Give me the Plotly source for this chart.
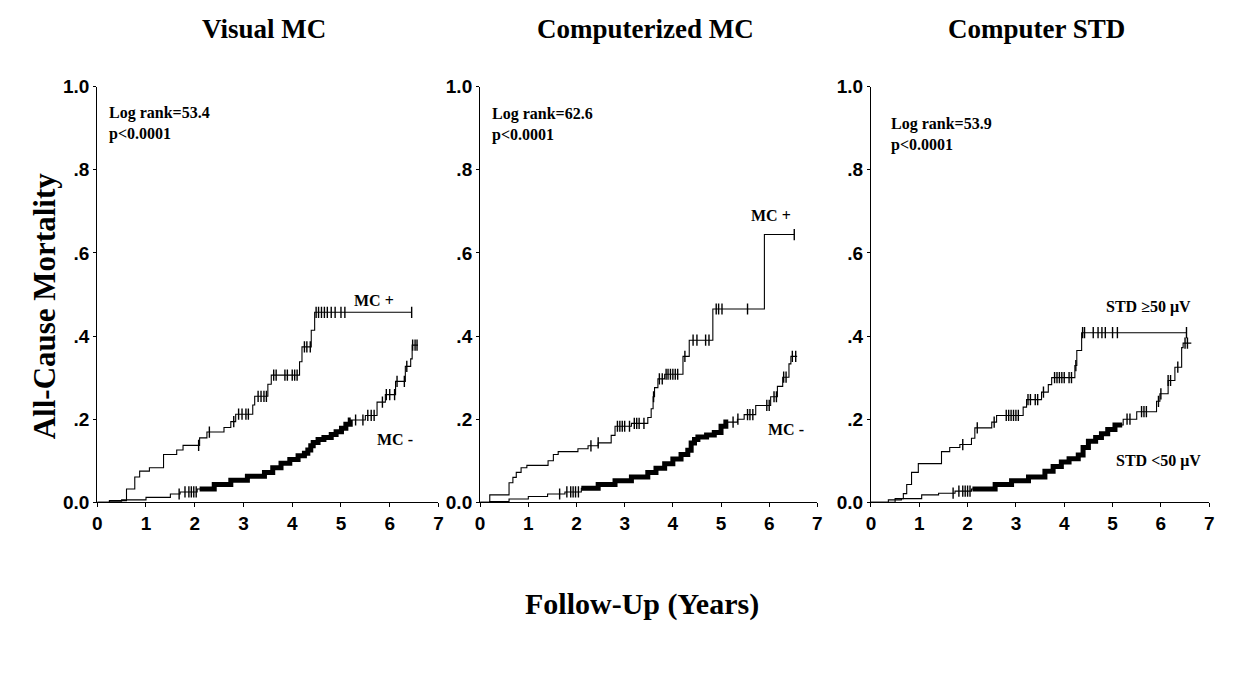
import numpy as np
import plotly.graph_objects as go

# ---------------- data ----------------
titles = ["Visual MC", "Computerized MC", "Computer STD"]
logrank = ["Log rank=53.4<br>p<0.0001", "Log rank=62.6<br>p<0.0001", "Log rank=53.9<br>p<0.0001"]
pos_labels = ["MC +", "MC +", "STD \u226550 \u03bcV"]
neg_labels = ["MC -", "MC -", "STD <50 \u03bcV"]

x_ticks = [0, 1, 2, 3, 4, 5, 6, 7]
y_ticks = [0.0, 0.2, 0.4, 0.6, 0.8, 1.0]
y_ticktext = ["0.0", ".2", ".4", ".6", ".8", "1.0"]

# Panel 1: Visual MC
vm_pos_t = [0, 0.25, 0.6, 0.77, 0.87, 1.07, 1.36, 1.63, 1.76, 2.1, 2.25, 2.6, 2.74, 2.84, 3.19, 3.23, 3.5, 3.57, 4.15, 4.2, 4.39, 4.46, 6.45]
vm_pos_y = [0, 0.004, 0.032, 0.061, 0.075, 0.083, 0.115, 0.126, 0.137, 0.155, 0.169, 0.18, 0.194, 0.212, 0.234, 0.255, 0.284, 0.306, 0.338, 0.374, 0.414, 0.457, 0.457]
vm_pos_cens = [2.08, 2.3, 2.8, 2.9, 2.97, 3.05, 3.1, 3.3, 3.36, 3.42, 3.47, 3.62, 3.67, 3.85, 3.9, 4.0, 4.05, 4.1, 4.25, 4.3, 4.37, 4.49, 4.54, 4.6, 4.66, 4.72, 4.8, 4.88, 5.0, 5.08, 6.45]
vm_neg_t = [0, 0.25, 0.5, 1.0, 1.5, 1.7, 2.05, 2.4, 2.74, 3.08, 3.43, 3.6, 3.77, 3.95, 4.12, 4.25, 4.32, 4.38, 4.43, 4.53, 4.65, 4.8, 4.9, 5.01, 5.1, 5.19, 5.5, 5.74, 5.91, 6.12, 6.32, 6.43, 6.46, 6.58]
vm_neg_y = [0, 0.003, 0.006, 0.012, 0.02, 0.025, 0.032, 0.043, 0.053, 0.063, 0.072, 0.083, 0.094, 0.103, 0.112, 0.118, 0.126, 0.136, 0.144, 0.151, 0.156, 0.163, 0.17, 0.178, 0.188, 0.198, 0.209, 0.241, 0.259, 0.291, 0.327, 0.345, 0.378, 0.378]
vm_neg_band = [2.1, 5.2]
vm_neg_cens = [1.68, 1.8, 1.88, 1.93, 1.98, 2.03, 5.3, 5.45, 5.55, 5.62, 5.68, 5.85, 5.93, 6.0, 6.1, 6.15, 6.3, 6.35, 6.47, 6.52, 6.56]

# Panel 2: Computerized MC
cm_pos_t = [0, 0.2, 0.6, 0.68, 0.75, 0.85, 0.97, 1.41, 1.52, 1.62, 2.03, 2.24, 2.45, 2.72, 2.8, 3.14, 3.48, 3.55, 3.59, 3.62, 3.69, 3.83, 4.21, 4.34, 4.83, 5.9, 6.52]
cm_pos_y = [0, 0.018, 0.047, 0.06, 0.072, 0.083, 0.089, 0.1, 0.115, 0.122, 0.129, 0.136, 0.143, 0.161, 0.183, 0.19, 0.204, 0.225, 0.254, 0.276, 0.297, 0.308, 0.351, 0.39, 0.465, 0.644, 0.644]
cm_pos_cens = [2.3, 2.45, 2.85, 2.9, 2.95, 3.0, 3.1, 3.2, 3.25, 3.3, 3.4, 3.6, 3.72, 3.78, 3.86, 3.9, 3.95, 4.0, 4.05, 4.1, 4.25, 4.42, 4.5, 4.68, 4.75, 4.9, 4.95, 5.02, 5.55, 6.52]
cm_neg_t = [0, 0.2, 0.6, 1.0, 1.4, 1.76, 2.1, 2.45, 2.8, 3.14, 3.48, 3.65, 3.83, 4.0, 4.17, 4.31, 4.38, 4.45, 4.52, 4.7, 4.86, 5.0, 5.1, 5.34, 5.48, 5.72, 6.03, 6.17, 6.28, 6.41, 6.45, 6.58]
cm_neg_y = [0, 0.002, 0.008, 0.014, 0.02, 0.025, 0.034, 0.043, 0.052, 0.061, 0.072, 0.082, 0.093, 0.104, 0.115, 0.125, 0.143, 0.151, 0.157, 0.162, 0.168, 0.183, 0.193, 0.2, 0.211, 0.233, 0.254, 0.279, 0.301, 0.333, 0.351, 0.351]
cm_neg_band = [2.1, 5.15]
cm_neg_cens = [1.65, 1.8, 1.88, 1.93, 1.98, 2.04, 5.25, 5.35, 5.55, 5.6, 5.66, 5.95, 6.0, 6.1, 6.15, 6.3, 6.35, 6.48, 6.55]

# Panel 3: Computer STD
cs_pos_t = [0, 0.36, 0.63, 0.67, 0.74, 0.84, 0.98, 1.46, 1.63, 1.84, 2.08, 2.15, 2.5, 2.6, 3.15, 3.22, 3.53, 3.67, 3.74, 4.22, 4.26, 4.36, 6.53]
cs_pos_y = [0, 0.006, 0.009, 0.021, 0.043, 0.072, 0.093, 0.122, 0.132, 0.139, 0.154, 0.179, 0.193, 0.209, 0.229, 0.247, 0.265, 0.283, 0.3, 0.329, 0.365, 0.408, 0.408]
cs_pos_cens = [1.9, 2.2, 2.55, 2.8, 2.85, 2.9, 2.95, 3.0, 3.05, 3.25, 3.3, 3.4, 3.45, 3.57, 3.8, 3.85, 3.9, 3.95, 4.0, 4.1, 4.15, 4.24, 4.38, 4.42, 4.6, 4.7, 4.78, 4.85, 5.0, 5.1, 6.53]
cs_neg_t = [0, 0.5, 1.05, 1.4, 1.74, 2.08, 2.57, 2.91, 3.26, 3.6, 3.77, 3.94, 4.1, 4.29, 4.39, 4.5, 4.65, 4.77, 4.9, 5.05, 5.22, 5.5, 5.91, 5.98, 6.15, 6.29, 6.43, 6.46, 6.63]
cs_neg_y = [0, 0.009, 0.018, 0.022, 0.027, 0.032, 0.043, 0.052, 0.061, 0.075, 0.086, 0.097, 0.105, 0.114, 0.132, 0.147, 0.156, 0.165, 0.175, 0.186, 0.2, 0.218, 0.243, 0.261, 0.293, 0.325, 0.372, 0.383, 0.383]
cs_neg_band = [2.1, 5.2]
cs_neg_cens = [1.7, 1.82, 1.9, 1.95, 2.0, 2.05, 5.3, 5.36, 5.6, 5.65, 5.7, 5.95, 6.0, 6.15, 6.2, 6.35, 6.5, 6.55]

# label positions (data coords)
pos_label_xy = [(5.67, 0.485), (6.03, 0.69), (5.75, 0.47)]
neg_label_xy = [(6.1, 0.152), (6.35, 0.175), (5.95, 0.10)]
logrank_xy = [(0.21, 0.963), (0.21, 0.96), (0.38, 0.937)]

panels = [
    (vm_pos_t, vm_pos_y, vm_pos_cens, vm_neg_t, vm_neg_y, vm_neg_band, vm_neg_cens),
    (cm_pos_t, cm_pos_y, cm_pos_cens, cm_neg_t, cm_neg_y, cm_neg_band, cm_neg_cens),
    (cs_pos_t, cs_pos_y, cs_pos_cens, cs_neg_t, cs_neg_y, cs_neg_band, cs_neg_cens),
]

# ---------------- layout geometry (pixels) ----------------
W, H = 1239, 681
x_px = [(93, 437), (479, 819), (873, 1214)]
y_px = (79, 508)   # top (1.0) / bottom (0.0)

SERIF = "Liberation Serif, Times New Roman, serif"
SANS = "Liberation Sans, Arial, sans-serif"


def step_val(t, y, q):
    t = np.asarray(t); y = np.asarray(y)
    idx = np.searchsorted(t, q, side="right") - 1
    return y[np.clip(idx, 0, len(y) - 1)]


fig = go.Figure()
annotations = []
for i, (pt, py, pc, nt, ny, nb, nc) in enumerate(panels):
    xa = "x" if i == 0 else f"x{i+1}"
    ya = "y" if i == 0 else f"y{i+1}"
    line = dict(color="black", width=1.1, shape="hv")
    fig.add_trace(go.Scatter(x=pt, y=py, mode="lines", line=line, xaxis=xa, yaxis=ya, showlegend=False))
    fig.add_trace(go.Scatter(x=nt, y=ny, mode="lines", line=line, xaxis=xa, yaxis=ya, showlegend=False))
    # dense censoring band on the negative curve (same step path, drawn thick)
    nt_a = np.asarray(nt)
    m = (nt_a >= nb[0]) & (nt_a <= nb[1])
    bt = np.concatenate([[nb[0]], nt_a[m], [nb[1]]])
    by = step_val(nt, ny, bt)
    fig.add_trace(go.Scatter(x=bt, y=by, mode="lines",
                             line=dict(color="black", width=5, shape="hv"),
                             xaxis=xa, yaxis=ya, showlegend=False))
    # censor marks
    for cens, t, y in ((pc, pt, py), (nc, nt, ny)):
        fig.add_trace(go.Scatter(x=cens, y=step_val(t, y, cens), mode="markers",
                                 marker=dict(symbol="line-ns-open", size=8, color="black",
                                             line=dict(color="black", width=1.4)),
                                 xaxis=xa, yaxis=ya, showlegend=False))
    x0, x1 = x_px[i]
    fig.update_layout(**{
        ("xaxis" if i == 0 else f"xaxis{i+1}"): dict(
            domain=[x0 / W, x1 / W], range=[0, 7], anchor=ya, tickvals=x_ticks,
            showline=True, linecolor="black", linewidth=1.2, ticks="outside", ticklen=4,
            tickcolor="black", showgrid=False, zeroline=False,
            tickfont=dict(family=SANS, size=19, color="black", weight="bold"), fixedrange=True),
        ("yaxis" if i == 0 else f"yaxis{i+1}"): dict(
            domain=[1 - y_px[1] / H, 1 - y_px[0] / H], range=[0, 1], anchor=xa,
            tickvals=y_ticks, ticktext=y_ticktext,
            showline=True, linecolor="black", linewidth=1.2, ticks="outside", ticklen=3,
            tickcolor="black", showgrid=False, zeroline=False,
            tickfont=dict(family=SANS, size=19, color="black", weight="bold"), fixedrange=True),
    })
    # panel title
    annotations.append(dict(text=f"<b>{titles[i]}</b>", x=(x0 + x1) / 2 / W - 0.003, y=1 - 20 / H,
                            xref="paper", yref="paper", xanchor="center", yanchor="middle", showarrow=False,
                            font=dict(family=SERIF, size=27, color="black")))
    lx, ly = logrank_xy[i]
    annotations.append(dict(text=f"<b>{logrank[i]}</b>", x=lx, y=ly, xref=xa, yref=ya, xanchor="left",
                            yanchor="top", align="left", showarrow=False,
                            font=dict(family=SERIF, size=16, color="black")))
    px_, py_ = pos_label_xy[i]
    annotations.append(dict(text=f"<b>{pos_labels[i]}</b>", x=px_, y=py_, xref=xa, yref=ya,
                            xanchor="center", yanchor="middle",
                            showarrow=False, font=dict(family=SERIF, size=16, color="black")))
    nx_, ny_ = neg_label_xy[i]
    annotations.append(dict(text=f"<b>{neg_labels[i]}</b>", x=nx_, y=ny_, xref=xa, yref=ya,
                            xanchor="center", yanchor="middle",
                            showarrow=False, font=dict(family=SERIF, size=16, color="black")))

annotations.append(dict(text="<b>All-Cause Mortality</b>", x=40 / W, y=1 - 305 / H, xref="paper", yref="paper",
                        xanchor="center", yanchor="middle",
                        textangle=-90, showarrow=False, font=dict(family=SERIF, size=31, color="black")))
annotations.append(dict(text="<b>Follow-Up (Years)</b>", x=642 / W, y=1 - 613 / H, xref="paper", yref="paper",
                        xanchor="center", yanchor="middle",
                        showarrow=False, font=dict(family=SERIF, size=30, color="black")))

fig.update_layout(width=W, height=H, margin=dict(l=0, r=0, t=0, b=0),
                  paper_bgcolor="white", plot_bgcolor="white", annotations=annotations)

fig.write_html("out.html")
